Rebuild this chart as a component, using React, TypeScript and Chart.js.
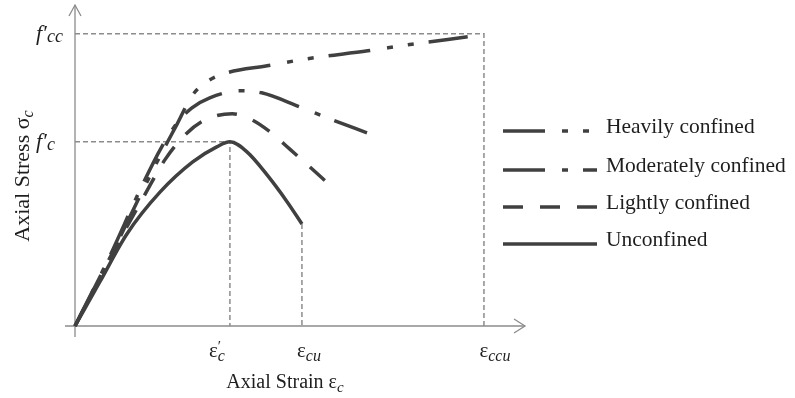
import { useEffect, useRef } from "react";
import { Chart, registerables } from "chart.js";

Chart.register(...registerables);

// ---- Data (strain in ‰, stress in arbitrary units) ----
const seriesNames = ["Heavily confined", "Moderately confined", "Lightly confined", "Unconfined"];

const heavyStrain = [0, 0.45, 0.84, 1.1, 1.32, 1.51, 1.72, 1.96, 2.48, 2.99, 3.78, 4.3, 5.07];
const heavyStress = [0, 11.09, 21.2, 27.72, 32.94, 37.5, 39.95, 41.25, 42.39, 43.53, 44.84, 45.82, 47.12];

const moderateStrain = [0, 0.45, 0.84, 1.12, 1.33, 1.51, 1.74, 2.13, 2.41, 2.9, 3.29, 3.77];
const moderateStress = [0, 11.41, 22.18, 29.19, 33.26, 35.55, 37.18, 38.32, 37.99, 35.71, 33.75, 31.47];

const lightStrain = [0, 0.45, 0.9, 1.16, 1.42, 1.68, 2.03, 2.26, 2.52, 2.77, 3.03, 3.26];
const lightStress = [0, 11.09, 21.36, 27.07, 31.14, 33.59, 34.57, 33.75, 31.63, 28.86, 25.93, 23.32];

const unconfinedStrain = [0, 0.32, 0.67, 1.1, 1.52, 1.83, 2.0, 2.22, 2.48, 2.74, 2.93];
const unconfinedStress = [0, 7.17, 15.0, 21.85, 26.74, 29.19, 30.0, 28.37, 24.62, 20.22, 16.63];

const fc = 30;
const fcc = 47.6;
const ec = 2.0;
const ecu = 2.93;
const eccu = 5.28;
const xMax = 5.81;
const yMax = 52.3;

const xTickValues = [ec, ecu, eccu];
const xTickMain = ["ε", "ε", "ε"];
const xTickPrime = ["′", "", ""];
const xTickSub = ["c", "cu", "ccu"];

const yTickValues = [fc, fcc];
const yTickMain = ["f′", "f′"];
const yTickSub = ["c", "cc"];

const xTitle = "Axial Strain ε";
const xTitleSub = "c";
const yTitle = "Axial Stress σ";
const yTitleSub = "c";

// ---- Styles ----
const CURVE = "#404040";
const AXIS = "#8c8c8c";
const TEXT = "#1e1e1e";
const SERIF = "'Liberation Serif', 'Times New Roman', serif";
const dashes: number[][] = [
  [42, 17, 6, 15, 6, 15],
  [42, 17, 6, 15],
  [20, 17],
  [],
];

const toPts = (xs: number[], ys: number[]) => xs.map((x, i) => ({ x, y: ys[i] }));

type Part = { t: string; font: string; dy: number; noAdvance?: boolean };

function richText(ctx: CanvasRenderingContext2D, x: number, y: number, parts: Part[], align: "left" | "center" | "right") {
  let w = 0;
  for (const p of parts) {
    ctx.font = p.font;
    if (!p.noAdvance) w += ctx.measureText(p.t).width;
  }
  let cx = align === "left" ? x : align === "center" ? x - w / 2 : x - w;
  ctx.textAlign = "left";
  ctx.textBaseline = "alphabetic";
  for (const p of parts) {
    ctx.font = p.font;
    ctx.fillText(p.t, cx, y + p.dy);
    if (!p.noAdvance) cx += ctx.measureText(p.t).width;
  }
}

const decorPlugin = {
  id: "decor",
  beforeDatasetsDraw(chart: any) {
    const { ctx, scales } = chart;
    const x = scales.x;
    const y = scales.y;
    const x0 = x.getPixelForValue(0);
    const y0 = y.getPixelForValue(0);
    const xEnd = x.getPixelForValue(xMax);
    const yTop = y.getPixelForValue(yMax);
    ctx.save();
    ctx.strokeStyle = AXIS;
    ctx.lineWidth = 1.3;
    ctx.setLineDash([]);
    ctx.beginPath();
    ctx.moveTo(x0 - 10, y0);
    ctx.lineTo(xEnd, y0);
    ctx.moveTo(x0, y0 + 11);
    ctx.lineTo(x0, yTop);
    ctx.stroke();
    ctx.beginPath();
    ctx.moveTo(xEnd - 11, y0 - 7);
    ctx.lineTo(xEnd, y0);
    ctx.lineTo(xEnd - 11, y0 + 7);
    ctx.moveTo(x0 - 6, yTop + 11);
    ctx.lineTo(x0, yTop);
    ctx.lineTo(x0 + 6, yTop + 11);
    ctx.stroke();
    ctx.restore();
  },
  afterDatasetsDraw(chart: any) {
    const { ctx, scales, chartArea } = chart;
    const x = scales.x;
    const y = scales.y;
    const y0 = y.getPixelForValue(0);
    ctx.save();
    ctx.fillStyle = TEXT;

    // x tick labels
    const offsets = [-13, 7, 11];
    xTickValues.forEach((v, i) => {
      const px = x.getPixelForValue(v) + offsets[i];
      const parts: Part[] = [{ t: xTickMain[i], font: `21px ${SERIF}`, dy: 0 }];
      if (xTickPrime[i]) parts.push({ t: xTickPrime[i], font: `15px ${SERIF}`, dy: -6, noAdvance: true });
      parts.push({ t: xTickSub[i], font: `italic 16px ${SERIF}`, dy: 4 });
      richText(ctx, px, y0 + 31, parts, "center");
    });

    // y tick labels
    yTickValues.forEach((v, i) => {
      const py = y.getPixelForValue(v);
      richText(
        ctx,
        36,
        py + 6,
        [
          { t: yTickMain[i], font: `italic 22px ${SERIF}`, dy: 0 },
          { t: yTickSub[i], font: `italic 18px ${SERIF}`, dy: 2 },
        ],
        "left"
      );
    });

    // x title
    const xc = (chartArea.left + chartArea.right) / 2;
    richText(
      ctx,
      xc - 15,
      y0 + 62,
      [
        { t: xTitle, font: `20px ${SERIF}`, dy: 0 },
        { t: xTitleSub, font: `italic 15px ${SERIF}`, dy: 4 },
      ],
      "center"
    );

    // y title
    ctx.save();
    ctx.translate(29, 176);
    ctx.rotate(-Math.PI / 2);
    richText(
      ctx,
      0,
      0,
      [
        { t: yTitle, font: `22px ${SERIF}`, dy: 0 },
        { t: yTitleSub, font: `italic 16px ${SERIF}`, dy: 4 },
      ],
      "center"
    );
    ctx.restore();

    // legend
    const lx0 = chartArea.right - 22;
    const lx1 = lx0 + 94;
    const rows = [131, 170, 207, 244];
    seriesNames.forEach((name, i) => {
      const ly = rows[i];
      ctx.save();
      ctx.strokeStyle = CURVE;
      ctx.lineWidth = 3.5;
      ctx.lineCap = "butt";
      ctx.setLineDash(dashes[i]);
      ctx.beginPath();
      ctx.moveTo(lx0, ly);
      ctx.lineTo(lx1, ly);
      ctx.stroke();
      ctx.restore();
      ctx.fillStyle = TEXT;
      ctx.font = `21.5px ${SERIF}`;
      ctx.textAlign = "left";
      ctx.textBaseline = "alphabetic";
      ctx.fillText(name, lx1 + 9, ly + 2);
    });
    ctx.restore();
  },
};

export default function App() {
  const ref = useRef<HTMLCanvasElement | null>(null);

  useEffect(() => {
    if (!ref.current) return;
    const curve = (label: string, pts: { x: number; y: number }[], dash: number[]) => ({
      label,
      data: pts,
      borderColor: CURVE,
      borderWidth: 3.5,
      borderDash: dash,
      borderCapStyle: "butt" as const,
      borderJoinStyle: "round" as const,
      cubicInterpolationMode: "monotone" as const,
      pointRadius: 0,
      fill: false,
      clip: false as any,
      order: 0,
    });
    const refLine = (pts: { x: number; y: number }[]) => ({
      label: "",
      data: pts,
      borderColor: AXIS,
      borderWidth: 1.5,
      borderDash: [5, 3],
      tension: 0,
      pointRadius: 0,
      fill: false,
      clip: false as any,
      order: 1,
    });
    const uEnd = unconfinedStress[unconfinedStress.length - 1];
    const chart = new Chart(ref.current, {
      type: "line",
      data: {
        datasets: [
          curve(seriesNames[0], toPts(heavyStrain, heavyStress), dashes[0]),
          curve(seriesNames[1], toPts(moderateStrain, moderateStress), dashes[1]),
          curve(seriesNames[2], toPts(lightStrain, lightStress), dashes[2]),
          curve(seriesNames[3], toPts(unconfinedStrain, unconfinedStress), dashes[3]),
          refLine([{ x: 0, y: fcc }, { x: eccu, y: fcc }, { x: eccu, y: 0 }]),
          refLine([{ x: 0, y: fc }, { x: ec, y: fc }, { x: ec, y: 0 }]),
          refLine([{ x: ecu, y: uEnd }, { x: ecu, y: 0 }]),
        ] as any,
      },
      options: {
        responsive: false,
        animation: false,
        layout: { padding: { left: 75, right: 270, top: 5, bottom: 72 } },
        scales: {
          x: { type: "linear", min: 0, max: xMax, display: false },
          y: { type: "linear", min: 0, max: yMax, display: false },
        },
        plugins: {
          legend: { display: false },
          tooltip: { enabled: false },
        },
        events: [],
      },
      plugins: [decorPlugin],
    });
    return () => chart.destroy();
  }, []);

  return (
    <div style={{ position: "fixed", left: 0, top: 0, width: 795, height: 398, background: "#fff" }}>
      <canvas ref={ref} width={795} height={398} />
    </div>
  );
}
